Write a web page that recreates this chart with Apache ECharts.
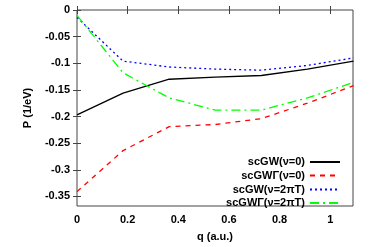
<!DOCTYPE html>
<html><head><meta charset="utf-8">
<script src="https://cdn.jsdelivr.net/npm/echarts@6/dist/echarts.min.js"></script>
<style>html,body{margin:0;padding:0;background:#fff}#c{width:382px;height:247px}</style>
</head><body><div id="c"></div>
<script>
const qValues = [0, 0.182, 0.364, 0.546, 0.728, 0.91, 1.092];
const scGW0 = [-0.197, -0.156, -0.130, -0.126, -0.123, -0.111, -0.096];
const scGWG0 = [-0.341, -0.264, -0.219, -0.215, -0.204, -0.175, -0.142];
const scGW2piT = [-0.014, -0.096, -0.107, -0.111, -0.113, -0.104, -0.090];
const scGWG2piT = [-0.010, -0.118, -0.165, -0.188, -0.188, -0.165, -0.136];
const seriesNames = ['scGW(\u03bd=0)', 'scGW\u0393(\u03bd=0)', 'scGW(\u03bd=2\u03c0T)', 'scGW\u0393(\u03bd=2\u03c0T)'];
const xTicks = [0, 0.2, 0.4, 0.6, 0.8, 1];
const yTicks = [0, -0.05, -0.1, -0.15, -0.2, -0.25, -0.3, -0.35];

const font = {fontFamily: 'Liberation Sans, Arial, sans-serif', fontWeight: 'bold', fontSize: 11, color: '#000'};
const pairs = v => qValues.map((q, i) => [q, v[i]]);
const styles = [
  {color: '#000000', type: 'solid'},
  {color: '#ff0000', type: [5, 5]},
  {color: '#0000ff', type: [2, 3]},
  {color: '#00ff00', type: [9, 4, 2, 4]}
];
const datas = [scGW0, scGWG0, scGW2piT, scGWG2piT];
const legendTops = [156.5, 170, 184, 197.5];
const chart = echarts.init(document.getElementById('c'));
const axisCommon = {
  axisLine: {show: false},
  splitLine: {show: false}
};
chart.setOption({
  animation: false,
  grid: {left: 77, top: 10, right: 29, bottom: 35, show: true, borderColor: '#444', borderWidth: 1},
  xAxis: [
    Object.assign({type: 'value', min: 0, max: 1.09,
      axisTick: {inside: true, length: 4, lineStyle: {color: '#444'}, customValues: xTicks},
      axisLabel: Object.assign({customValues: xTicks, margin: 8, formatter: v => String(v)}, font),
      name: 'q (a.u.)', nameLocation: 'middle', nameGap: 25,
      nameTextStyle: font}, axisCommon),
    Object.assign({type: 'value', min: 0, max: 1.09, position: 'top',
      axisTick: {inside: true, length: 4, lineStyle: {color: '#444'}, customValues: xTicks},
      axisLabel: {show: false}}, axisCommon)
  ],
  yAxis: [
    Object.assign({type: 'value', min: -0.368, max: 0,
      axisTick: {inside: true, length: 4, lineStyle: {color: '#444'}, customValues: yTicks},
      axisLabel: Object.assign({customValues: yTicks, margin: 7, formatter: v => String(v)}, font),
      name: 'P (1/eV)', nameLocation: 'middle', nameGap: 44, nameRotate: 90,
      nameTextStyle: font}, axisCommon),
    Object.assign({type: 'value', min: -0.368, max: 0, position: 'right',
      axisTick: {inside: true, length: 4, lineStyle: {color: '#444'}, customValues: yTicks},
      axisLabel: {show: false}}, axisCommon)
  ],
  legend: seriesNames.map((n, i) => ({
    orient: 'vertical', right: 41, top: legendTops[i], align: 'right', padding: 0,
    itemWidth: 30, itemHeight: 10, itemGap: 0,
    itemStyle: {opacity: 0},
    textStyle: Object.assign({}, font, {fontSize: 11}),
    data: [n]
  })),
  series: datas.map((d, i) => ({
    name: seriesNames[i], type: 'line', data: pairs(d),
    symbol: 'none', lineStyle: {color: styles[i].color, type: styles[i].type, width: 1.3},
    itemStyle: {color: styles[i].color}
  }))
});
</script></body></html>
